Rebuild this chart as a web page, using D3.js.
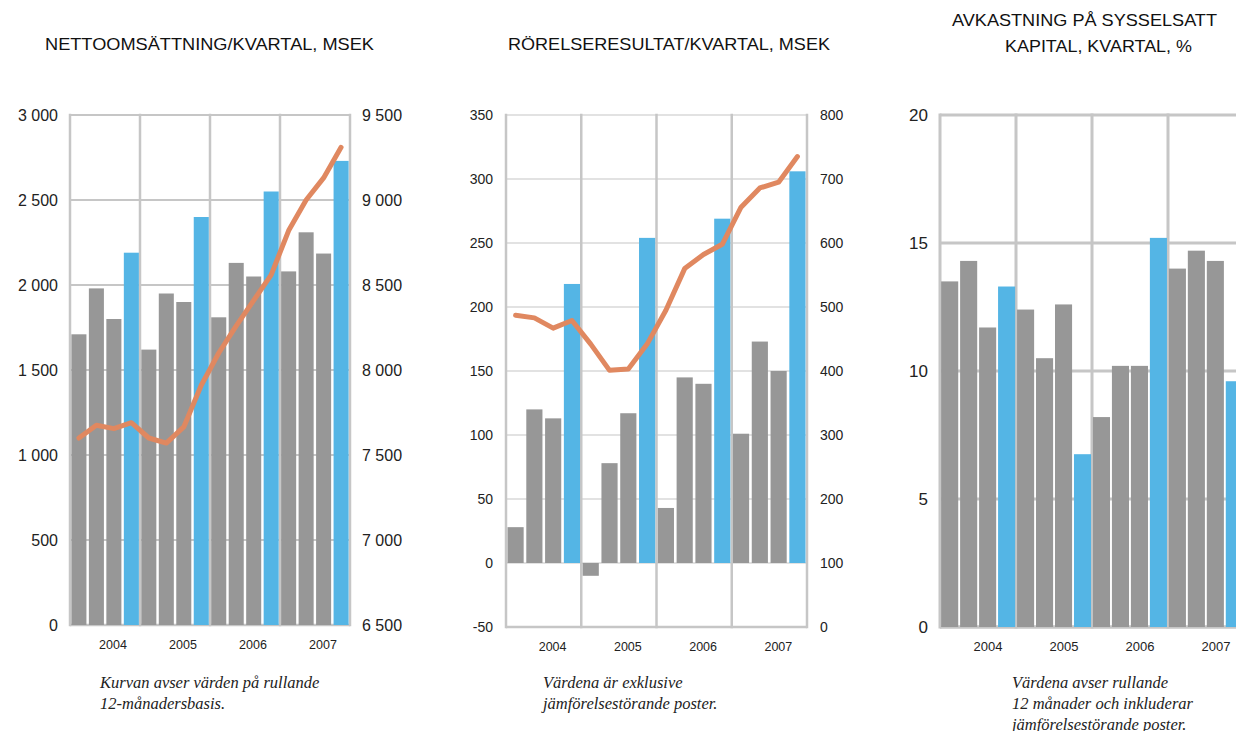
<!DOCTYPE html>
<html>
<head>
<meta charset="utf-8">
<script src="https://cdn.jsdelivr.net/npm/d3@7"></script>
<style>
  body { margin: 0; background: #fff; }
  svg { display: block; }
</style>
</head>
<body>
<svg id="bg" width="1236" height="731"></svg>
<script>
const width = 1236;
const height = 731;

// quarters, 4 per year
const years = ["2004", "2005", "2006", "2007"];
const quarters = [];
years.forEach(function(y){
    ["K1", "K2", "K3", "K4"].forEach(function(q){ quarters.push(y + " " + q); });
});
// Q4 bars are the blue ones
const highlighted = ["2004 K4", "2005 K4", "2006 K4", "2007 K4"];

// NETTOOMSÄTTNING (bars, MSEK) and rolling 12 months (line)
const salesQuarter = [1710, 1980, 1800, 2190, 1620, 1950, 1900, 2400, 1810, 2130, 2050, 2550, 2080, 2310, 2185, 2730];
const salesRolling = [7600, 7675, 7655, 7690, 7600, 7570, 7665, 7910, 8100, 8260, 8410, 8560, 8820, 9000, 9130, 9310];
const salesTicks = [0, 500, 1000, 1500, 2000, 2500, 3000];
const salesTicksRight = [6500, 7000, 7500, 8000, 8500, 9000, 9500];

// RÖRELSERESULTAT (bars, MSEK) and rolling 12 months (line)
const ebitQuarter = [28, 120, 113, 218, -10, 78, 117, 254, 43, 145, 140, 269, 101, 173, 150, 306];
const ebitRolling = [487, 483, 467, 479, 442, 401, 403, 442, 495, 560, 582, 598, 656, 686, 695, 735];
const ebitTicks = [-50, 0, 50, 100, 150, 200, 250, 300, 350];
const ebitTicksRight = [0, 100, 200, 300, 400, 500, 600, 700, 800];

// AVKASTNING PÅ SYSSELSATT KAPITAL (%)
const roceQuarter = [13.5, 14.3, 11.7, 13.3, 12.4, 10.5, 12.6, 6.75, 8.2, 10.2, 10.2, 15.2, 14.0, 14.7, 14.3, 9.6];
const roceTicks = [0, 5, 10, 15, 20];

const grey = "#979797";
const blue = "#54b5e5";
const orange = "#e08860";
const gridColor = "#c6c6c6";

const locale = d3.formatLocale({ decimal: ",", thousands: "\u00a0", grouping: [3], currency: ["", " kr"], minus: "-" });
const fmt = locale.format(",d");

const svg = d3.select("#bg");
svg.append("rect").attr("width", width).attr("height", height).attr("fill", "#fff");
svg.attr("font-family", "'Liberation Sans', Arial, sans-serif");

function drawChart(c){
    const g = svg.append("g");

    const x = d3.scaleBand().domain(quarters).range([c.left, c.right])
        .paddingInner(c.padIn).paddingOuter(c.padOut);
    const xYear = d3.scaleBand().domain(years).range([c.left, c.right]);
    const y = d3.scaleLinear().domain(c.yDomain).range([c.bottom, c.top]);

    // horizontal grid
    g.append("g").selectAll("line")
        .data(c.ticks)
        .enter()
        .append("line")
            .attr("x1", c.left).attr("x2", c.right + 1)
            .attr("y1", function(d){ return y(d); })
            .attr("y2", function(d){ return y(d); })
            .attr("stroke", gridColor)
            .attr("stroke-width", c.hGrid);

    // vertical grid (year separators and frame sides)
    const xs = years.map(function(d){ return xYear(d); }).concat([c.right]);
    g.append("g").selectAll("line")
        .data(xs)
        .enter()
        .append("line")
            .attr("x1", function(d){ return d; })
            .attr("x2", function(d){ return d; })
            .attr("y1", c.top - c.vGrid / 2).attr("y2", c.bottom + c.vGrid / 2)
            .attr("stroke", gridColor)
            .attr("stroke-width", c.vGrid);

    // bottom frame line
    g.append("line")
        .attr("x1", c.left).attr("x2", c.right)
        .attr("y1", y(c.yDomain[0])).attr("y2", y(c.yDomain[0]))
        .attr("stroke", gridColor).attr("stroke-width", c.vGrid);

    // bars
    g.append("g").selectAll("rect")
        .data(c.bars)
        .enter()
        .append("rect")
            .attr("x", function(d, i){ return x(quarters[i]); })
            .attr("width", x.bandwidth())
            .attr("y", function(d){ return y(Math.max(0, d)); })
            .attr("height", function(d){ return Math.abs(y(d) - y(0)); })
            .attr("fill", function(d, i){ return highlighted.includes(quarters[i]) ? blue : grey; });

    // left tick labels
    g.append("g").selectAll("text")
        .data(c.ticks)
        .enter()
        .append("text")
            .attr("x", c.left - c.labelGap)
            .attr("y", function(d){ return y(d); })
            .attr("dy", "0.36em")
            .attr("text-anchor", "end")
            .attr("font-size", c.tickSize)
            .attr("fill", "#222")
            .text(function(d){ return fmt(d); });

    // year labels
    g.append("g").selectAll("text")
        .data(years)
        .enter()
        .append("text")
            .attr("x", function(d){ return xYear(d) + xYear.bandwidth() / 2 + c.yearShift; })
            .attr("y", c.bottom + 24)
            .attr("text-anchor", "middle")
            .attr("font-size", c.yearSize)
            .attr("fill", "#222")
            .text(function(d){ return d; });

    // rolling line on the right axis
    if(c.line){
        const y2 = d3.scaleLinear().domain(c.y2Domain).range([c.bottom, c.top]);
        const line = d3.line()
            .x(function(d, i){ return x(quarters[i]) + x.bandwidth() / 2; })
            .y(function(d){ return y2(d); });
        g.append("path")
            .datum(c.line)
            .attr("d", line)
            .attr("fill", "none")
            .attr("stroke", orange)
            .attr("stroke-width", 5)
            .attr("stroke-linecap", "round")
            .attr("stroke-linejoin", "round");

        g.append("g").selectAll("text")
            .data(c.ticksRight)
            .enter()
            .append("text")
                .attr("x", c.right + c.labelGap)
                .attr("y", function(d){ return y2(d); })
                .attr("dy", "0.36em")
                .attr("font-size", c.tickSize)
                .attr("fill", "#222")
                .text(function(d){ return fmt(d); });
    }

    // title (x, baseline, width, text)
    c.title.forEach(function(t){
        g.append("text")
            .attr("x", t[0]).attr("y", t[1])
            .attr("font-size", 17)
            .attr("textLength", t[2])
            .attr("lengthAdjust", "spacingAndGlyphs")
            .attr("fill", "#111")
            .text(t[3]);
    });

    // note under the chart
    c.note.forEach(function(t, i){
        g.append("text")
            .attr("x", c.noteX).attr("y", 688 + i * 21)
            .attr("font-family", "'Liberation Serif', 'DejaVu Serif', serif")
            .attr("font-style", "italic")
            .attr("font-size", 16.5)
            .attr("fill", "#222")
            .text(t);
    });
}

drawChart({
    left: 70, right: 350, top: 115, bottom: 625,
    padIn: 0.14, padOut: 0.08,
    yDomain: [0, 3000], ticks: salesTicks,
    y2Domain: [6500, 9500], ticksRight: salesTicksRight,
    bars: salesQuarter, line: salesRolling,
    hGrid: 2, vGrid: 2.5, labelGap: 12, tickSize: 16, yearSize: 12.5, yearShift: 8,
    title: [[45, 50, 329, "NETTOOMSÄTTNING/KVARTAL, MSEK"]],
    noteX: 100, note: ["Kurvan avser värden på rullande", "12-månadersbasis."]
});

drawChart({
    left: 506, right: 807, top: 115, bottom: 627,
    padIn: 0.14, padOut: 0.08,
    yDomain: [-50, 350], ticks: ebitTicks,
    y2Domain: [0, 800], ticksRight: ebitTicksRight,
    bars: ebitQuarter, line: ebitRolling,
    hGrid: 1.2, vGrid: 2.5, labelGap: 13, tickSize: 14, yearSize: 12.5, yearShift: 9,
    title: [[508, 50, 322, "RÖRELSERESULTAT/KVARTAL, MSEK"]],
    noteX: 543, note: ["Värdena är exklusive", "jämförelsestörande poster."]
});

drawChart({
    left: 940, right: 1244, top: 115, bottom: 627,
    padIn: 0.1, padOut: 0.06,
    yDomain: [0, 20], ticks: roceTicks,
    bars: roceQuarter, line: null,
    hGrid: 3, vGrid: 3, labelGap: 12, tickSize: 17, yearSize: 13, yearShift: 10,
    title: [[952, 26, 265, "AVKASTNING PÅ SYSSELSATT"], [1005, 52, 187, "KAPITAL, KVARTAL, %"]],
    noteX: 1012, note: ["Värdena avser rullande", "12 månader och inkluderar", "jämförelsestörande poster."]
});
</script>
</body>
</html>
